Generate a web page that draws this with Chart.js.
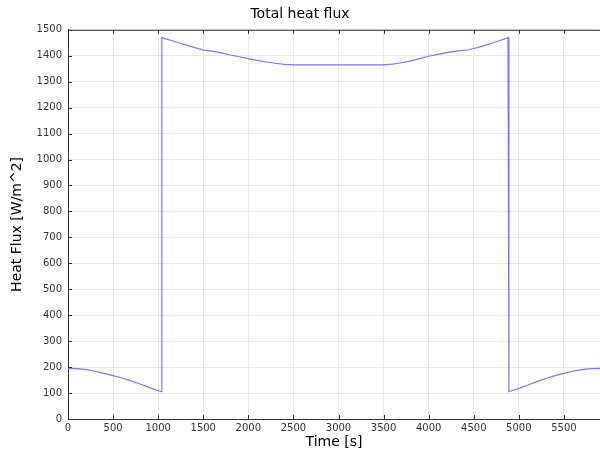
<!DOCTYPE html>
<html>
<head>
<meta charset="utf-8">
<script src="https://cdn.jsdelivr.net/npm/chart.js@4.4.1/dist/chart.umd.min.js"></script>
<style>
  html, body { margin: 0; padding: 0; background: #fff; }
  #wrap { width: 600px; height: 451px; }
</style>
</head>
<body>
<div id="wrap"><canvas id="fluxChart" width="600" height="451"></canvas></div>
<script>
// time [s] and total heat flux [W/m^2]
const times = [0, 100, 200, 300, 400, 500, 600, 700, 800, 900, 1000, 1035,
  1040, 1200, 1350, 1500, 1600, 1700, 1800, 1900, 2000, 2100, 2200, 2300, 2400, 2500,
  3000, 3500, 3600, 3700, 3800, 3900, 4000, 4100, 4200, 4300, 4450, 4600, 4750, 4880,
  4890, 5000, 5100, 5200, 5300, 5400, 5500, 5600, 5700, 5800, 5900];
const flux = [195, 194, 190, 184, 176, 167, 158, 147, 135, 122, 109, 105,
  1470, 1453, 1437, 1422, 1418, 1411, 1403, 1396, 1389, 1382, 1376, 1371, 1367, 1365,
  1365, 1365, 1368, 1373, 1380, 1389, 1398, 1405, 1412, 1418, 1423, 1437, 1454, 1470,
  105, 118, 131, 144, 156, 167, 176, 184, 190, 194, 195];

const xTicks = [0, 500, 1000, 1500, 2000, 2500, 3000, 3500, 4000, 4500, 5000, 5500];
const yTicks = [0, 100, 200, 300, 400, 500, 600, 700, 800, 900, 1000, 1100, 1200, 1300, 1400, 1500];

const xMax = 5900;
const yMax = 1500;

const points = times.map((t, i) => ({ x: t, y: flux[i] }));

// tick marks drawn on the inside of the frame
const innerTicks = {
  id: "innerTicks",
  afterDraw(chart) {
    const { ctx, chartArea, scales } = chart;
    ctx.save();
    ctx.strokeStyle = "#333";
    ctx.lineWidth = 1;
    ctx.beginPath();
    ctx.moveTo(chartArea.left, chartArea.top + 0.5);
    ctx.lineTo(chartArea.right, chartArea.top + 0.5);
    scales.x.ticks.forEach((tk) => {
      const px = Math.round(scales.x.getPixelForValue(tk.value)) + 0.5;
      ctx.moveTo(px, chartArea.bottom);
      ctx.lineTo(px, chartArea.bottom - 4);
      ctx.moveTo(px, chartArea.top);
      ctx.lineTo(px, chartArea.top + 4);
    });
    scales.y.ticks.forEach((tk) => {
      const py = Math.round(scales.y.getPixelForValue(tk.value)) + 0.5;
      ctx.moveTo(chartArea.left, py);
      ctx.lineTo(chartArea.left + 4, py);
    });
    ctx.stroke();
    ctx.restore();
  },
};

const ctx = document.getElementById("fluxChart").getContext("2d");
new Chart(ctx, {
  type: "scatter",
  data: {
    datasets: [
      {
        label: "Total heat flux",
        data: points,
        showLine: true,
        borderColor: "#7777ff",
        borderWidth: 1.2,
        pointRadius: 0,
        tension: 0,
      },
    ],
  },
  options: {
    responsive: false,
    animation: false,
    layout: { padding: { left: 0, right: 0, top: 0, bottom: 0 } },
    plugins: {
      legend: { display: false },
      tooltip: { enabled: false },
      title: {
        display: true,
        text: "Total heat flux",
        color: "#000",
        font: { family: "DejaVu Sans", size: 14, weight: "normal" },
        padding: { top: 6, bottom: 7 },
      },
    },
    scales: {
      x: {
        type: "linear",
        min: 0,
        max: xMax,
        afterBuildTicks(scale) {
          scale.ticks = xTicks.map((v) => ({ value: v }));
        },
        afterFit(scale) {
          scale.height = 32;
        },
        ticks: {
          maxRotation: 0,
          autoSkip: false,
          color: "#333",
          padding: 3,
          font: { family: "DejaVu Sans", size: 10 },
          callback: (v) => String(v),
        },
        grid: { color: "#e8e8e8", drawTicks: false },
        border: { color: "#333", width: 1 },
        title: {
          display: true,
          text: "Time [s]",
          color: "#000",
          font: { family: "DejaVu Sans", size: 14 },
          padding: { top: 0, bottom: 0 },
        },
      },
      y: {
        min: 0,
        max: yMax,
        afterBuildTicks(scale) {
          scale.ticks = yTicks.map((v) => ({ value: v }));
        },
        afterFit(scale) {
          scale.width = 68;
        },
        ticks: {
          autoSkip: false,
          color: "#333",
          padding: 6,
          font: { family: "DejaVu Sans", size: 10 },
          callback: (v) => String(v),
        },
        grid: { color: "#e8e8e8", drawTicks: false },
        border: { color: "#333", width: 1 },
        title: {
          display: true,
          text: "Heat Flux [W/m^2]",
          color: "#000",
          font: { family: "DejaVu Sans", size: 14 },
          padding: { top: 9, bottom: 0 },
        },
      },
    },
  },
  plugins: [innerTicks],
});
</script>
</body>
</html>
